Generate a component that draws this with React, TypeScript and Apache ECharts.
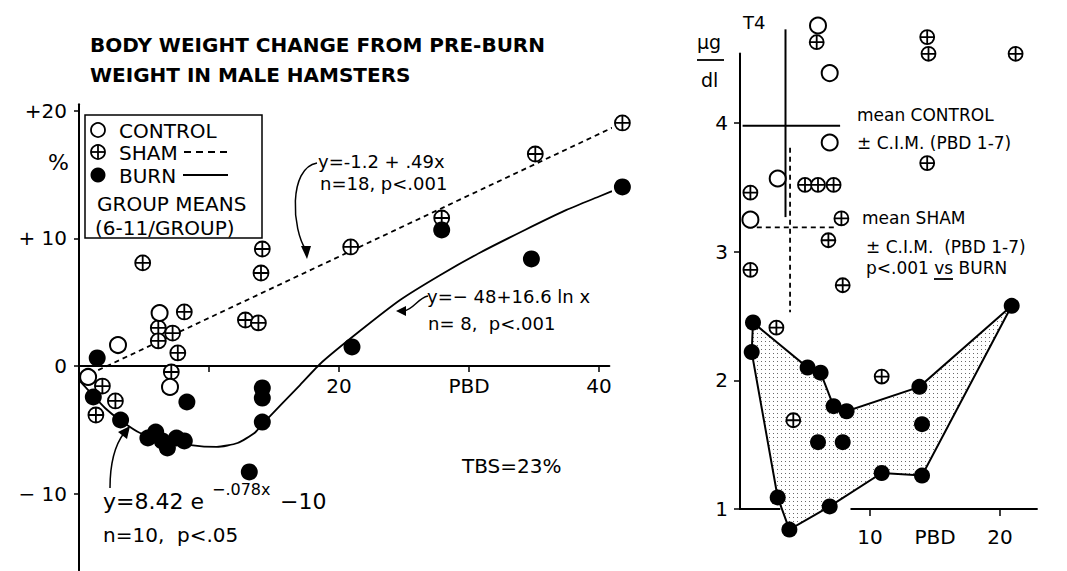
import React, { useEffect, useRef } from 'react';
import * as echarts from 'echarts';

// ---------- LEFT PANEL: body weight change (%) vs PBD ----------
const leftControl = [[0.7, -0.86], [3.0, 1.64], [6.2, 4.15], [7.0, -1.64]];
const leftSham = [
  [1.3, -3.84], [1.8, -1.57], [2.8, -2.74], [4.9, 8.07], [6.1, 2.98], [6.1, 1.96],
  [7.2, 2.58], [8.1, 4.23], [7.6, 1.02], [7.1, -0.47], [12.8, 3.6], [13.8, 3.37],
  [14.1, 9.16], [14.0, 7.28], [20.9, 9.32], [27.9, 11.59], [35.1, 16.6], [41.8, 19.03],
];
const leftBurn = [
  [1.4, 0.63], [1.1, -2.43], [3.2, -4.23], [5.3, -5.64], [5.9, -5.17], [6.4, -5.87],
  [6.8, -6.42], [7.5, -5.64], [8.1, -5.87], [8.3, -2.82], [13.1, -8.3], [14.1, -1.72],
  [14.1, -2.51], [14.1, -4.39], [21.0, 1.49], [27.9, 10.65], [34.8, 8.38], [41.8, 14.02],
];
const burnFitCurve = [
  [0, -1.1], [0.85, -2.04], [2.0, -3.29], [3.15, -4.23], [4.7, -5.25], [6.8, -5.79],
  [8.6, -6.19], [10.6, -6.34], [12.2, -6.03], [13.5, -5.25], [14.2, -4.46], [17.0, -1.49],
  [18.7, 0.31], [21.6, 2.74], [24.7, 5.17], [27.8, 7.13], [30.8, 8.85], [34.3, 10.65],
  [37.5, 12.22], [40.1, 13.31], [41.8, 14.02],
];
const shamFitLine = [[0.85, -0.63], [41.8, 19.03]];
const leftYTickValues = [-10, 0, 10, 20];
const leftYTickLabels = ['\u2212 10', '0', '+ 10', '+20'];
const leftXTickValues = [10, 20, 30, 40];
const leftXLabelValues = [20, 30, 40];
const leftXLabels = ['20', 'PBD', '40'];

// ---------- RIGHT PANEL: T4 (µg/dl) vs PBD ----------
const rightControl = [[6.0, 4.76], [6.9, 4.39], [6.9, 3.85], [2.9, 3.57], [0.8, 3.25]];
const rightSham = [
  [5.9, 4.63], [14.4, 4.67], [14.5, 4.54], [21.2, 4.54], [14.4, 3.69], [5.0, 3.52],
  [6.0, 3.52], [7.2, 3.52], [0.8, 3.46], [7.8, 3.26], [6.8, 3.09], [0.8, 2.86],
  [7.9, 2.74], [2.8, 2.41], [10.9, 2.03], [4.1, 1.69],
];
const rightBurn = [
  [1.0, 2.45], [0.9, 2.22], [5.2, 2.1], [6.2, 2.06], [7.2, 1.8], [8.2, 1.76],
  [6.0, 1.52], [7.9, 1.52], [13.8, 1.95], [14.0, 1.66], [20.9, 2.58], [10.9, 1.28],
  [14.0, 1.26], [2.9, 1.09], [6.9, 1.02], [3.8, 0.84],
];
const burnEnvelope = [
  [1.0, 2.45], [5.2, 2.1], [6.2, 2.06], [7.2, 1.8], [8.2, 1.76], [13.8, 1.95],
  [20.9, 2.58], [14.0, 1.26], [10.9, 1.28], [6.9, 1.02], [3.8, 0.84], [2.9, 1.09], [0.9, 2.22],
];
const controlMean = [[0.2, 3.98], [7.7, 3.98]];
const controlCIM = [[3.5, 4.73], [3.5, 3.27]];
const shamMean = [[0.6, 3.19], [7.5, 3.19]];
const shamCIM = [[3.85, 3.81], [3.85, 2.53]];
const rightAxisSegA = [[-0.5, 1], [3.1, 1]];
const rightAxisSegB = [[8.5, 1], [22.9, 1]];
const rightYTickValues = [1, 2, 3, 4];
const rightXTickValues = [10, 20];
const rightXLabelValues = [10, 15, 20];
const rightXLabels = ['10', 'PBD', '20'];

const FONT = 'DejaVu Sans';
const SHAM_SYMBOL =
  'path://M0,-10A10,10,0,1,1,0,10A10,10,0,1,1,0,-10ZM-10,0L10,0M0,-10L0,10';

function dotCanvas() {
  const c = document.createElement('canvas');
  c.width = 4;
  c.height = 4;
  const ctx = c.getContext('2d');
  if (ctx) {
    ctx.fillStyle = '#ffffff';
    ctx.fillRect(0, 0, 4, 4);
    ctx.fillStyle = '#6a6a6a';
    ctx.fillRect(1, 1, 1, 1);
  }
  return c;
}

function txt(text: string, x: number, y: number, size: number, extra: any = {}) {
  return {
    type: 'text',
    silent: true,
    style: {
      text,
      x,
      y,
      fill: '#000',
      font: `${extra.weight || 'normal'} ${size}px "${FONT}"`,
      align: extra.align || 'left',
      verticalAlign: 'middle',
    },
  };
}

function ln(x1: number, y1: number, x2: number, y2: number, dash?: number[]) {
  return {
    type: 'line',
    silent: true,
    shape: { x1, y1, x2, y2 },
    style: { stroke: '#000', lineWidth: 1.8, lineDash: dash || null },
  };
}

function arrowHead(points: number[][]) {
  return { type: 'polygon', silent: true, shape: { points }, style: { fill: '#000' } };
}

function curve(x1: number, y1: number, cpx1: number, cpy1: number, cpx2: number, cpy2: number, x2: number, y2: number) {
  return {
    type: 'bezierCurve',
    silent: true,
    shape: { x1, y1, cpx1, cpy1, cpx2, cpy2, x2, y2 },
    style: { stroke: '#000', lineWidth: 1.5, fill: null },
  };
}

function segSeries(data: number[][], xi: number, dashed = false, width = 2) {
  return {
    type: 'line',
    xAxisIndex: xi,
    yAxisIndex: xi,
    data,
    symbol: 'none',
    clip: false,
    silent: true,
    lineStyle: { color: '#000', width, type: dashed ? [5, 4] : 'solid' },
    z: 2,
  };
}

export default function App() {
  const ref = useRef<HTMLDivElement>(null);
  useEffect(() => {
    if (!ref.current) return;
    const chart = echarts.init(ref.current, null, { renderer: 'svg' });
    const dots = dotCanvas();
    const axisText = { color: '#000', fontFamily: FONT, fontSize: 20 };

    const option: any = {
      animation: false,
      backgroundColor: '#fff',
      textStyle: { fontFamily: FONT, color: '#000' },
      grid: [
        { left: 79, top: 104.2, width: 530.4, height: 466.1, outerBoundsMode: 'none', containLabel: false },
        { left: 740, top: 53.4, width: 297.7, height: 455.6, outerBoundsMode: 'none', containLabel: false },
      ],
      xAxis: [
        {
          gridIndex: 0,
          type: 'value',
          min: 0,
          max: 40.8,
          position: 'bottom',
          offset: -204.3,
          splitLine: { show: false },
          axisLine: { show: true, onZero: false, lineStyle: { color: '#000', width: 2 } },
          axisTick: { show: true, inside: false, length: 6, customValues: leftXTickValues, lineStyle: { color: '#000', width: 1.5 } },
          axisLabel: {
            ...axisText,
            margin: 10,
            customValues: leftXLabelValues,
            formatter: (v: number) => {
              const i = leftXLabelValues.indexOf(v);
              return i >= 0 ? leftXLabels[i] : '';
            },
          },
        },
        {
          gridIndex: 1,
          type: 'value',
          min: 0,
          max: 22.9,
          splitLine: { show: false },
          axisLine: { show: false },
          axisTick: { show: true, inside: false, length: 7, customValues: rightXTickValues, lineStyle: { color: '#000', width: 1.5 } },
          axisLabel: {
            ...axisText,
            margin: 18,
            customValues: rightXLabelValues,
            formatter: (v: number) => {
              const i = rightXLabelValues.indexOf(v);
              return i >= 0 ? rightXLabels[i] : '';
            },
          },
        },
      ],
      yAxis: [
        {
          gridIndex: 0,
          type: 'value',
          min: -16,
          max: 20.5,
          splitLine: { show: false },
          axisLine: { show: true, onZero: false, lineStyle: { color: '#000', width: 2 } },
          axisTick: { show: true, inside: false, length: 5, customValues: leftYTickValues, lineStyle: { color: '#000', width: 1.5 } },
          axisLabel: {
            ...axisText,
            margin: 12,
            customValues: leftYTickValues,
            formatter: (v: number) => {
              const i = leftYTickValues.indexOf(v);
              return i >= 0 ? leftYTickLabels[i] : '';
            },
          },
        },
        {
          gridIndex: 1,
          type: 'value',
          min: 1,
          max: 4.543,
          splitLine: { show: false },
          axisLine: { show: true, onZero: false, lineStyle: { color: '#000', width: 2 } },
          axisTick: { show: true, inside: false, length: 6, customValues: rightYTickValues, lineStyle: { color: '#000', width: 1.5 } },
          axisLabel: { ...axisText, margin: 12, customValues: rightYTickValues, formatter: (v: number) => String(v) },
        },
      ],
      series: [
        // left panel
        segSeries(shamFitLine, 0, true, 1.8),
        {
          type: 'line',
          xAxisIndex: 0,
          yAxisIndex: 0,
          data: burnFitCurve,
          symbol: 'none',
          smooth: 0.2,
          clip: false,
          silent: true,
          lineStyle: { color: '#000', width: 1.8 },
          z: 2,
        },
        {
          type: 'scatter', xAxisIndex: 0, yAxisIndex: 0, data: leftSham, symbol: SHAM_SYMBOL, symbolSize: 15,
          itemStyle: { color: '#fff', borderColor: '#000', borderWidth: 1.8, opacity: 1 }, clip: false, silent: true, z: 3,
        },
        {
          type: 'scatter', xAxisIndex: 0, yAxisIndex: 0, data: leftControl, symbol: 'circle', symbolSize: 16,
          itemStyle: { color: '#fff', borderColor: '#000', borderWidth: 2, opacity: 1 }, clip: false, silent: true, z: 3,
        },
        {
          type: 'scatter', xAxisIndex: 0, yAxisIndex: 0, data: leftBurn, symbol: 'circle', symbolSize: 17,
          itemStyle: { color: '#000', opacity: 1 }, clip: false, silent: true, z: 4,
        },
        // right panel
        {
          type: 'custom',
          xAxisIndex: 1,
          yAxisIndex: 1,
          data: [[0, 1]],
          clip: false,
          silent: true,
          z: 1,
          renderItem: (_params: any, api: any) => ({
            type: 'polygon',
            shape: { points: burnEnvelope.map((p) => api.coord(p)) },
            style: {
              fill: { image: dots, repeat: 'repeat', imageWidth: 4, imageHeight: 4 },
              stroke: '#000',
              lineWidth: 2,
            },
          }),
        },
        segSeries(rightAxisSegA, 1, false, 2),
        segSeries(rightAxisSegB, 1, false, 2),
        segSeries(controlMean, 1, false, 2),
        segSeries(controlCIM, 1, false, 2),
        segSeries(shamMean, 1, true, 1.8),
        segSeries(shamCIM, 1, true, 1.8),
        {
          type: 'scatter', xAxisIndex: 1, yAxisIndex: 1, data: rightSham, symbol: SHAM_SYMBOL, symbolSize: 14,
          itemStyle: { color: '#fff', borderColor: '#000', borderWidth: 1.8, opacity: 1 }, clip: false, silent: true, z: 3,
        },
        {
          type: 'scatter', xAxisIndex: 1, yAxisIndex: 1, data: rightControl, symbol: 'circle', symbolSize: 16,
          itemStyle: { color: '#fff', borderColor: '#000', borderWidth: 2, opacity: 1 }, clip: false, silent: true, z: 3,
        },
        {
          type: 'scatter', xAxisIndex: 1, yAxisIndex: 1, data: rightBurn, symbol: 'circle', symbolSize: 16,
          itemStyle: { color: '#000', opacity: 1 }, clip: false, silent: true, z: 4,
        },
      ],
      graphic: [
        // title
        txt('BODY WEIGHT CHANGE FROM PRE-BURN', 90, 45, 20, { weight: 'bold' }),
        txt('WEIGHT IN MALE HAMSTERS', 90, 75, 20, { weight: 'bold' }),
        txt('%', 48, 162, 22),
        // legend box
        {
          type: 'rect', silent: true, shape: { x: 85, y: 115, width: 177, height: 123 },
          style: { fill: '#fff', stroke: '#000', lineWidth: 1.5 }, z: 10,
        },
        { type: 'circle', silent: true, shape: { cx: 98, cy: 130, r: 7 }, style: { fill: '#fff', stroke: '#000', lineWidth: 1.8 }, z: 11 },
        { type: 'circle', silent: true, shape: { cx: 98, cy: 152, r: 7 }, style: { fill: '#fff', stroke: '#000', lineWidth: 1.8 }, z: 11 },
        { ...ln(91, 152, 105, 152), z: 11 },
        { ...ln(98, 145, 98, 159), z: 11 },
        { type: 'circle', silent: true, shape: { cx: 98, cy: 175, r: 7.5 }, style: { fill: '#000' }, z: 11 },
        { ...txt('CONTROL', 119, 131, 20), z: 11 },
        { ...txt('SHAM', 119, 153, 20), z: 11 },
        { ...ln(184, 152, 228, 152, [7, 5]), z: 11 },
        { ...txt('BURN', 119, 176, 20), z: 11 },
        { ...ln(183, 175, 228, 175), z: 11 },
        { ...txt('GROUP MEANS', 97, 204, 20), z: 11 },
        { ...txt('(6-11/GROUP)', 95, 228, 20), z: 11 },
        // sham regression annotation
        txt('y=-1.2 + .49x', 318, 161, 18),
        txt('n=18, p<.001', 320, 183, 18),
        curve(317, 163, 288, 168, 292, 230, 306, 250),
        arrowHead([[307, 259], [301, 246], [311, 246]]),
        // ln annotation
        txt('y=\u2212 48+16.6 ln x', 427, 296, 18),
        txt('n= 8,  p<.001', 428, 323, 18),
        curve(428, 296, 418, 298, 414, 309, 404, 311),
        arrowHead([[396, 311], [406, 306], [406, 316]]),
        // exp annotation
        txt('y=8.42 e', 103, 501, 22),
        txt('\u2212.078x', 212, 489, 16),
        txt('\u221210', 280, 501, 22),
        txt('n=10,  p<.05', 103, 535, 20),
        curve(110, 488, 110, 465, 115, 445, 124, 433),
        arrowHead([[130, 426], [118, 432], [127, 439]]),
        txt('TBS=23%', 462, 466, 20),
        // right panel annotations
        txt('T4', 743, 22, 18),
        txt('\u00b5g', 697, 42, 19),
        ln(697, 60, 724, 60),
        txt('dl', 701, 80, 19),
        txt('mean CONTROL', 857, 115, 17),
        txt('\u00b1 C.I.M. (PBD 1-7)', 857, 143, 17),
        txt('mean SHAM', 862, 218, 17),
        txt('\u00b1 C.I.M.  (PBD 1-7)', 866, 247, 17),
        txt('p<.001 vs BURN', 866, 268, 17),
        ln(934, 279, 953, 279),
      ],
    };
    chart.setOption(option);
    return () => chart.dispose();
  }, []);
  return (
    <div
      ref={ref}
      style={{ position: 'fixed', left: 0, top: 0, width: 1067, height: 571, background: '#fff' }}
    />
  );
}
